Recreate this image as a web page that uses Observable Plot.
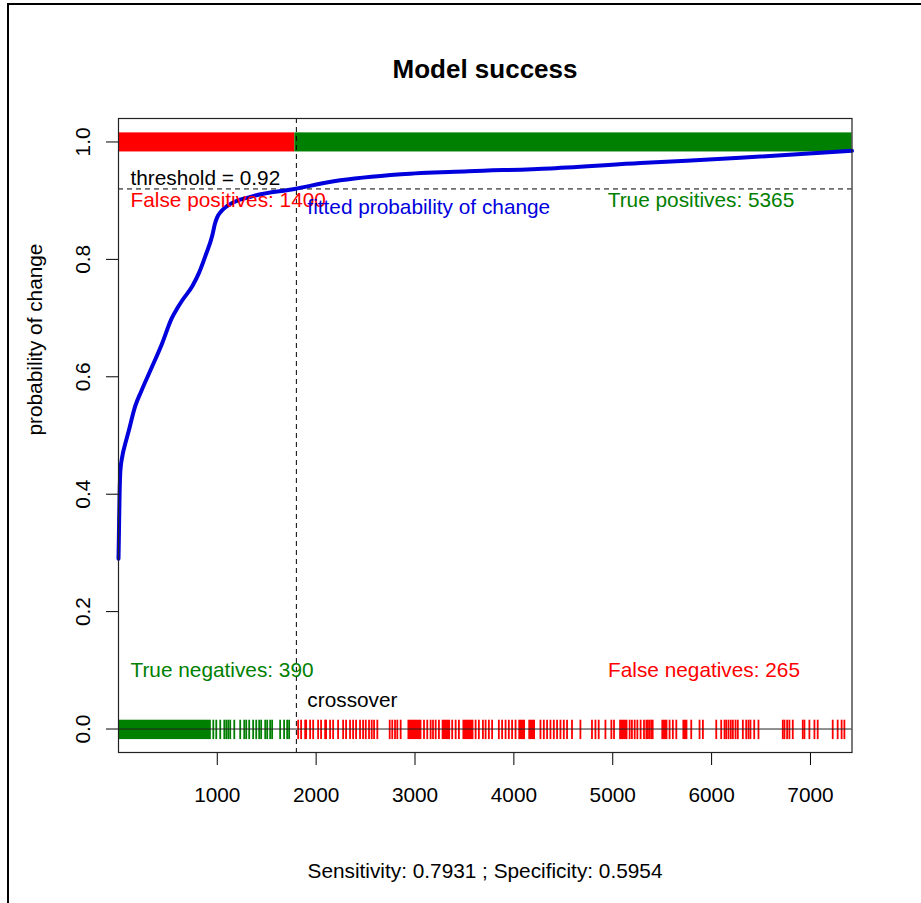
<!DOCTYPE html>
<html>
<head>
<meta charset="utf-8">
<script src="https://cdn.jsdelivr.net/npm/d3@7"></script>
<script src="https://cdn.jsdelivr.net/npm/@observablehq/plot@0.6"></script>
<style>
  body { margin: 0; background: #fff; }
  #page { position: relative; width: 921px; height: 903px; overflow: hidden;
          font-family: "Liberation Sans", Arial, sans-serif; color: #000; }
  #edgeTop { position: absolute; left: 7px; top: 3px; right: 0; height: 0; border-top: 2px solid #000; }
  #edgeLeft { position: absolute; left: 7px; top: 3px; bottom: 0; width: 0; border-left: 2px solid #000; }
  #title { margin-left: 118px; width: 734px; height: 100px; box-sizing: border-box; padding-top: 54px;
           line-height: 30px; text-align: center; font-weight: bold; font-size: 26px; }
  #chart svg { display: block; }
  #caption { margin-left: 118px; width: 734px; padding-top: 39px; line-height: 24px;
             text-align: center; font-size: 20.8px; }
</style>
</head>
<body>
<div id="page">
  <div id="edgeTop"></div>
  <div id="edgeLeft"></div>
  <div id="title">Model success</div>
  <div id="chart"></div>
  <div id="caption"></div>
</div>
<script>
// Observations ranked by fitted probability of change
const nObs = 7420;
const threshold = 0.92;
const crossover = 1800;           // rank where the fitted curve passes the threshold
const falsePositives = 1400;
const truePositives = 5365;
const trueNegatives = 390;
const falseNegatives = 265;
const sensitivity = 0.7931;
const specificity = 0.5954;

// Fitted probability curve (rank -> probability)
const fitRank = [1, 5, 12, 20, 40, 60, 100, 170, 230, 340, 440, 540, 600, 645, 750, 815, 880, 950,
                 975, 1000, 1040, 1110, 1345, 1780, 2180, 2860, 3540, 4370, 5280, 6290, 7420];
const fitProb = [0.29, 0.33, 0.40, 0.44, 0.465, 0.48, 0.505, 0.55, 0.575, 0.617, 0.656, 0.700, 0.718,
                 0.730, 0.755, 0.777, 0.806, 0.841, 0.860, 0.872, 0.882, 0.892, 0.907, 0.920, 0.933,
                 0.945, 0.950, 0.955, 0.964, 0.973, 0.985];

// Observed change (value 1): ranks form continuous runs
const changeRunStart = [1, 1785];
const changeRunEnd = [1785, 7420];

// Observed no change (value 0): dense runs and single ranks
const stableRunStart = [1, 2929, 3275, 3485, 4050, 4151, 5070, 5497, 5710];
const stableRunEnd = [940, 3070, 3360, 3596, 4118, 4219, 5154, 5558, 5760];
const stableRanks = [
  960, 990, 1030, 1071, 1091, 1111, 1131, 1172, 1232, 1273, 1293, 1323, 1363, 1394, 1424, 1444,
  1485, 1505, 1535, 1555, 1636, 1676, 1707, 1727,
  1818, 1848, 1889, 1899, 1939, 1970, 2020, 2050, 2091, 2101, 2141, 2172, 2222, 2273, 2303, 2343,
  2374, 2404, 2444, 2475, 2502, 2535, 2562, 2586, 2619, 2744, 2770, 2798, 2821, 2855,
  3091, 3124, 3158, 3182, 3209, 3242, 3376, 3411, 3444, 3613, 3646, 3687, 3714, 3747, 3780,
  3848, 3881, 3916, 3949, 3982, 4017, 4269, 4303, 4336, 4370, 4404, 4437, 4471, 4505, 4538,
  4588, 4673, 4790, 4825, 4858, 4926, 4986, 5013, 5171, 5194, 5222, 5249, 5282, 5316, 5340,
  5356, 5373, 5390, 5404, 5575, 5608, 5643, 5794, 5878, 5912, 6047, 6097, 6131, 6148, 6171,
  6194, 6215, 6242, 6265, 6316, 6350, 6373, 6393, 6431, 6474, 6720, 6737, 6764, 6787, 6821,
  6922, 6939, 6989, 7040, 7073, 7225, 7275, 7315, 7343
];

const xTicks = [1000, 2000, 3000, 4000, 5000, 6000, 7000];
const yTicks = [0, 0.2, 0.4, 0.6, 0.8, 1.0];

const RED = "#ff0000", GREEN = "#008000", BLUE = "#0000dd";
const FONT = 20.8;

const fit = fitRank.map((r, i) => ({rank: r, prob: fitProb[i]}));
const changeRuns = changeRunStart.map((s, i) => ({start: s, end: changeRunEnd[i]}));
const stableRuns = stableRunStart.map((s, i) => ({start: s, end: stableRunEnd[i]}));
// left of the crossover: observed change is a false positive, no change a true negative
const changeColor = d => d.end <= crossover ? RED : GREEN;
const stableColor = r => r < crossover ? GREEN : RED;

const chart = Plot.plot({
  width: 921,
  height: 720,
  marginTop: 18,
  marginBottom: 68,
  marginLeft: 118,
  marginRight: 69.5,
  x: {domain: [1, nObs]},
  y: {domain: [-0.04, 1.04]},
  style: {fontFamily: '"Liberation Sans", Arial, sans-serif', fontSize: `${FONT}px`, color: "#000", background: "#fff"},
  marks: [
    // bands of observations
    Plot.rect(changeRuns, {x1: "start", x2: "end", y1: 0.983, y2: 1.0155, fill: changeColor}),
    Plot.rect(stableRuns, {x1: "start", x2: "end", y1: -0.018, y2: 0.015, fill: d => stableColor(d.start)}),
    Plot.ruleX(stableRanks, {x: d => d, y1: -0.018, y2: 0.015, stroke: stableColor, strokeWidth: 1.8}),
    Plot.ruleY([0], {stroke: "#222", strokeWidth: 1}),
    // threshold and crossover
    Plot.ruleY([threshold], {stroke: "#000", strokeWidth: 1, strokeDasharray: "5,4"}),
    Plot.ruleX([crossover], {stroke: "#000", strokeWidth: 1, strokeDasharray: "5,4"}),
    // fitted probability
    Plot.line(fit, {x: "rank", y: "prob", stroke: BLUE, strokeWidth: 4, curve: "monotone-x"}),
    // annotations
    Plot.text([`threshold = ${threshold}`], {frameAnchor: "left", y: threshold, dx: 12, dy: -11, textAnchor: "start", fill: "#000"}),
    Plot.text([`False positives: ${falsePositives}`], {frameAnchor: "left", y: threshold, dx: 12, dy: 11, textAnchor: "start", fill: RED}),
    Plot.text(["fitted probability of change"], {x: crossover, y: threshold, dx: 11, dy: 18, textAnchor: "start", fill: BLUE}),
    Plot.text([`True positives: ${truePositives}`], {frameAnchor: "right", y: threshold, dx: -151, dy: 11, textAnchor: "middle", fill: GREEN}),
    Plot.text([`True negatives: ${trueNegatives}`], {frameAnchor: "left", y: 0, dx: 12, dy: -59, textAnchor: "start", fill: GREEN}),
    Plot.text([`False negatives: ${falseNegatives}`], {frameAnchor: "right", y: 0, dx: -148, dy: -59, textAnchor: "middle", fill: RED}),
    Plot.text(["crossover"], {x: crossover, y: 0, dx: 11, dy: -29, textAnchor: "start", fill: "#000"}),
    // axes and box
    Plot.axisX({ticks: xTicks, tickSize: 13, tickPadding: 22, tickFormat: d => String(d), label: null}),
    Plot.axisY({ticks: yTicks, tickSize: 12, tickPadding: 17, tickRotate: -90, tickFormat: d3.format(".1f"), label: null}),
    Plot.text(["probability of change"], {frameAnchor: "left", rotate: -90, dx: -83, fill: "#000"}),
    Plot.frame({stroke: "#222", strokeWidth: 1.2})
  ]
});
document.getElementById("chart").append(chart);
document.getElementById("caption").textContent =
  `Sensitivity: ${sensitivity} ; Specificity: ${specificity}`;
</script>
</body>
</html>
